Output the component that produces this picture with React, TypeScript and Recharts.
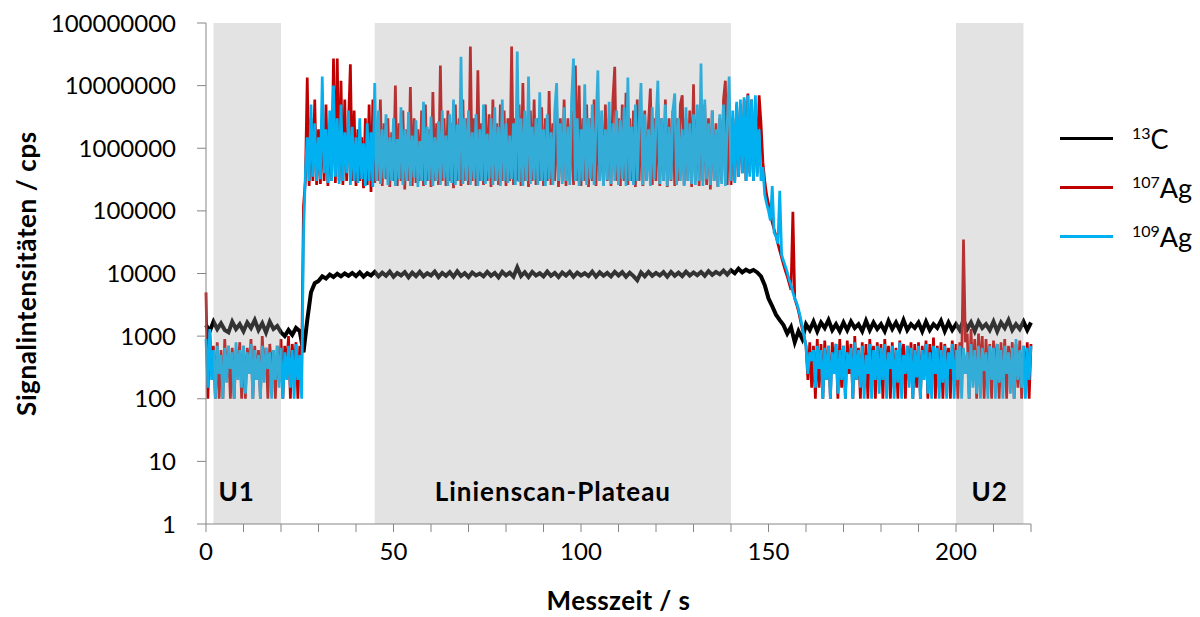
import { Legend, Line, LineChart, ReferenceArea, XAxis, YAxis } from 'recharts';

const FONT = 'Lato, "Open Sans", sans-serif';

// 13C, 1 s spacing (0 ... 220 s)
const c13Values = [
  1500, 1200, 1700, 1300, 1600, 1250, 1150, 1700, 1300, 1550,
  1200, 1650, 1350, 1800, 1250, 1600, 1150, 1700, 1300, 1450,
  1150, 1000, 1250, 1050, 1350, 1200, 550, 1800, 5000, 7000,
  7600, 9000, 8300, 9600, 8800, 9900, 9000, 10000, 9200, 10200,
  9100, 10400, 8900, 10100, 9300, 10600, 9000, 10300, 9200, 10700,
  8900, 10200, 9300, 10500, 8700, 10300, 9100, 10600, 9000, 10100,
  9300, 10700, 8800, 10200, 9200, 10500, 8900, 10800, 9100, 10100,
  8800, 10400, 9300, 10000, 9000, 10600, 9200, 10200, 8700, 10600,
  9300, 10300, 8900, 12500, 9100, 10500, 8800, 10600, 9300, 10100,
  9000, 10700, 9200, 10200, 8800, 10400, 9300, 10600, 8900, 10300,
  9300, 10100, 9100, 10700, 8900, 10400, 9200, 10200, 9000, 10600,
  9300, 10500, 8900, 10300, 9100, 7800, 10400, 9000, 10600, 9200,
  10200, 9300, 10500, 8900, 10600, 9200, 10300, 9100, 10700, 9300,
  10400, 9400, 10600, 9200, 10900, 9500, 10600, 9700, 11100, 9600,
  11300, 10100, 11900, 10400, 11500, 10700, 11400, 10400, 9000, 6500,
  4000, 3000, 2200, 1800, 1500, 1100, 1400, 800, 1200, 900,
  1550, 1250, 1700, 1200, 1650, 1350, 1800, 1250, 1550, 1200,
  1650, 1250, 1700, 1350, 1550, 1200, 1750, 1250, 1650, 1300,
  1550, 1200, 1750, 1300, 1650, 1250, 1800, 1250, 1550, 1350,
  1650, 1200, 1700, 1250, 1550, 1350, 1750, 1200, 1650, 1250,
  1550, 1250, 1800, 1300, 1650, 1200, 1700, 1350, 1550, 1250,
  1700, 1200, 1650, 1350, 1800, 1250, 1550, 1300, 1700, 1250,
  1650,
];

// 107Ag, 0.5 s spacing
const ag107Values = [
  5000, 100, 1200, 300, 700, 100, 800, 100, 600, 100, 900, 200, 700, 100, 650, 100, 600, 250, 800, 100,
  700, 100, 650, 300, 900, 100, 700, 200, 600, 100, 1000, 250, 650, 100, 750, 300, 600, 100, 700, 200,
  900, 100, 700, 300, 1000, 100, 750, 250, 800, 100, 700, 300, 1.2e5, 3e5, 1.35e7, 2.5e5, 3e6, 3e5, 6e6, 2.6e5,
  2e6, 2.7e5, 3e6, 3e5, 5e6, 2.5e5, 1.5e6, 3e5, 2.7e7, 2.8e5, 2.7e7, 3e5, 1.2e7, 2.6e5, 6e6, 3e5, 2.5e6, 2.2e7, 3e5, 4e6,
  2.5e5, 2e6, 3e5, 1.5e6, 2.3e5, 3e6, 2.6e5, 5e6, 2e5, 6e6, 2.8e5, 2e6, 3e5, 6e6, 2.5e5, 2.5e6, 3.2e5, 3e6, 2.4e5, 1.8e6,
  3e5, 1e7, 2.5e5, 2.5e6, 3e5, 4e6, 2.2e5, 2e6, 3e5, 9.5e6, 2.5e5, 3e6, 2.8e5, 2e6, 3e5, 4e6, 2.5e5, 5e6, 3e5, 2e6,
  2.4e5, 7.9e6, 3e5, 2.5e6, 2.6e5, 2.1e7, 3e5, 3e6, 2.5e5, 4e6, 3e5, 2.5e6, 2.3e5, 5e6, 3e5, 3e6, 2.5e5, 6e6, 3e5, 3e6,
  2.6e5, 4.2e7, 3e5, 3e6, 2.5e5, 1.76e7, 3e5, 2.5e6, 2.6e5, 5e6, 3e5, 3.5e6, 2.4e5, 6e6, 3e5, 2.5e6, 2.6e5, 5e6, 3e5, 4e6,
  2.5e5, 3e6, 3e5, 4.2e7, 2.6e5, 3e6, 3e5, 5e6, 2.5e5, 1.1e7, 3e5, 2.5e6, 2.4e5, 4e6, 3e5, 6e6, 2.6e5, 3e6, 3e5, 4.5e6,
  2.5e5, 3e6, 3e5, 8.2e6, 2.6e5, 2.5e6, 3e5, 5e6, 2.4e5, 3e6, 3e5, 6e6, 2.5e5, 3e6, 3e5, 4e6, 2.6e5, 2.1e7, 3e5, 1e7,
  2.5e5, 3e6, 3e5, 5e6, 2.4e5, 3e6, 3e5, 6e6, 2.5e5, 4e6, 3e5, 3e6, 2.6e5, 5e6, 3e5, 3e6, 2.5e5, 6e6, 2e7, 3e5,
  3e6, 2.5e5, 5e6, 3e5, 7.7e6, 2.6e5, 3e6, 3e5, 4e6, 2.4e5, 6e6, 3e5, 3e6, 2.5e5, 4e6, 3e5, 2.5e6, 9e6, 2.6e5, 3e6,
  3e5, 5e6, 2.5e5, 3e6, 3e5, 6e6, 2.4e5, 3e6, 3e5, 4e6, 2.5e5, 3e6, 3e5, 5e6, 7e6, 2.6e5, 3e6, 3e5, 4e6, 2.4e5,
  1.05e7, 3e5, 3e6, 2.5e5, 4e6, 3e5, 5e6, 2.6e5, 3e6, 2.2e5, 4e6, 3e5, 2.5e6, 2.4e5, 3e6, 3e5, 6e6, 1.2e7, 2.6e5, 4e6,
  2.6e5, 3e6, 3e5, 5e6, 3.5e5, 5e6, 4e5, 6e6, 3e5, 7.5e6, 4e5, 6e6, 3e5, 5e6, 4e5, 7e6, 2.5e6, 6e5, 3e5, 1.8e5,
  1.3e5, 9e4, 6.5e4, 5e4, 4e4, 3e4, 2.3e4, 1.8e4, 1.4e4, 1.1e4, 9000, 7000, 5500, 9.7e4, 4000, 3200, 2500, 1800, 1300, 1000,
  700, 200, 800, 150, 700, 100, 900, 150, 750, 100, 850, 200, 700, 100, 800, 300, 750, 100, 900, 150,
  700, 100, 850, 250, 750, 100, 1000, 200, 650, 100, 800, 150, 750, 100, 900, 300, 700, 100, 800, 200,
  750, 100, 900, 250, 700, 100, 800, 150, 650, 100, 850, 300, 750, 100, 700, 200, 800, 100, 750, 150,
  800, 100, 700, 250, 850, 100, 750, 200, 950, 100, 700, 150, 800, 100, 750, 300, 650, 100, 850, 200,
  750, 100, 800, 300, 3.5e4, 800, 1100, 100, 1300, 200, 900, 100, 1100, 250, 1000, 100, 900, 200, 750, 100,
  850, 300, 750, 100, 800, 200, 900, 100, 700, 250, 800, 100, 750, 150, 850, 100, 700, 200, 800, 100,
  750,
];

// 109Ag, 0.5 s spacing
const ag109Values = [
  900, 150, 1300, 200, 600, 100, 700, 250, 500, 100, 650, 180, 700, 300, 550, 100, 800, 200, 600, 150,
  700, 120, 550, 250, 750, 100, 600, 200, 500, 100, 700, 180, 650, 300, 550, 100, 600, 200, 700, 150,
  650, 100, 550, 200, 700, 150, 600, 100, 750, 200, 500, 100, 4e4, 4e5, 1.5e6, 3e5, 5e6, 3.5e5, 2.5e6, 3e5,
  1.5e6, 3.2e5, 1.4e7, 4e5, 2e6, 2.8e5, 4e6, 3e5, 1e7, 3.5e5, 3e6, 2.7e5, 5e6, 3e5, 1.8e6, 4e5, 4e6, 2.6e5, 2.2e6, 3e5,
  1.5e6, 2.8e5, 3e6, 3.2e5, 1.2e6, 2.5e5, 2.5e6, 3e5, 1.8e6, 2.4e5, 1.1e7, 3e5, 4e6, 2.7e5, 2e6, 3.3e5, 3.5e6, 2.6e5, 1.5e6, 3e5,
  3e6, 2.5e5, 1.4e6, 3.2e5, 4.5e6, 2.6e5, 2e6, 3e5, 3.8e6, 2.5e5, 1.6e6, 3.4e5, 2.8e6, 2.4e5, 1.3e6, 3e5, 5.5e6, 2.6e5, 2.2e6, 3.1e5,
  3.2e6, 2.5e5, 1.5e6, 3e5, 2.7e6, 2.6e5, 4e6, 3.3e5, 1.6e6, 2.5e5, 3.5e6, 2.8e5, 6e6, 2.6e5, 2.4e6, 3.1e5, 2.9e7, 2.7e5, 3e6, 3e5,
  4e6, 2.6e5, 1.8e6, 3.2e5, 3.5e6, 2.5e5, 2e6, 3e5, 5e6, 2.7e5, 1.7e6, 3.3e5, 3e6, 2.6e5, 4.5e6, 3e5, 2.2e6, 2.5e5, 6e6, 3e5,
  2.5e6, 2.8e5, 1.6e6, 3.2e5, 2.5e6, 2.6e5, 3.5e7, 2.9e5, 3e6, 2.5e5, 4e6, 3e5, 1.4e7, 2.7e5, 2.2e6, 3.1e5, 3e6, 2.6e5, 7.8e6, 3e5,
  2e6, 2.5e5, 3.5e6, 3.2e5, 1.8e6, 2.6e5, 4e6, 1.1e7, 3e5, 2.5e6, 2.7e5, 4.5e6, 3e5, 2.2e6, 2.6e5, 6e6, 2.7e7, 3e5, 3e6, 2.5e5,
  2e6, 3e5, 1.05e7, 2.6e5, 3e6, 3.2e5, 5e6, 2.6e5, 2.4e6, 1.75e7, 3e5, 4e6, 2.5e5, 2e6, 3.1e5, 5.5e6, 2.7e5, 2.5e6, 3e5, 4e6,
  2.6e5, 2.8e6, 3.2e5, 4.5e6, 2.5e5, 1.35e7, 3e5, 2.2e6, 2.6e5, 5e6, 3e5, 2.5e6, 1.1e7, 2.6e5, 3.5e6, 3e5, 2e6, 2.5e5, 4.5e6, 3.2e5,
  2.5e6, 1.2e7, 2.7e5, 3e6, 3e5, 5e6, 2.5e5, 2.2e6, 3.1e5, 4e6, 7.5e6, 2.6e5, 3e6, 3e5, 2e6, 2.5e5, 4.5e6, 3e5, 2.5e6, 2.7e5,
  3.5e6, 2.6e5, 5e6, 3e5, 2.26e7, 2.5e5, 6e6, 3.2e5, 2.5e6, 2.6e5, 4e6, 3e5, 2e6, 2.4e5, 3.5e6, 2.7e5, 5e6, 2.5e5, 2.5e6, 1.4e7,
  3e5, 4e6, 2.8e5, 5.5e6, 3.5e5, 6e6, 4e5, 6.5e6, 3e5, 7e6, 3.5e5, 6e6, 3e5, 7e6, 3.5e5, 2e6, 3e5, 5e5, 1.8e5, 1.3e5,
  1e5, 7e4, 2.5e5, 4.5e4, 3.9e4, 3e4, 2.1e5, 2e4, 1.6e4, 1.3e4, 1.05e4, 8000, 6500, 5000, 4000, 3400, 2700, 2000, 1400, 1000,
  680, 250, 550, 400, 600, 150, 700, 300, 600, 100, 650, 200, 700, 100, 550, 250, 750, 120, 600, 200,
  700, 100, 550, 300, 650, 100, 800, 200, 600, 150, 700, 100, 500, 250, 750, 100, 600, 200, 700, 120,
  650, 200, 750, 100, 550, 300, 700, 100, 600, 180, 800, 100, 500, 250, 700, 150, 650, 100, 600, 220,
  700, 100, 600, 200, 750, 120, 550, 100, 700, 250, 650, 100, 600, 180, 700, 100, 550, 300, 750, 100,
  600, 200, 700, 100, 650, 250, 550, 100, 750, 150, 600, 120, 700, 100, 650, 280, 550, 100, 700, 200,
  650, 100, 750, 180, 600, 100, 700, 250, 550, 120, 650, 100, 900, 200, 600, 150, 700, 100, 650, 200,
  700,
];

const C_STEP = 1;
const AG_STEP = 0.5;

const xTicks = [0, 10, 20, 30, 40, 50, 60, 70, 80, 90, 100, 110, 120, 130, 140, 150, 160, 170, 180, 190, 200, 210, 220];
const yTicks = [1, 10, 100, 1000, 10000, 100000, 1000000, 10000000, 100000000];

const regions = [
  { from: 2, to: 20, label: 'U1', anchor: 'start' },
  { from: 45, to: 140, label: 'Linienscan-Plateau', anchor: 'middle' },
  { from: 200, to: 218, label: 'U2', anchor: 'middle' },
];

const toPoints = (values: number[], step: number) => values.map((v, i) => ({ t: i * step, v }));

const series = [
  { key: 'c13', mass: '13', element: 'C', color: '#000000', width: 4, data: toPoints(c13Values, C_STEP) },
  { key: 'ag107', mass: '107', element: 'Ag', color: '#c00000', width: 2.75, data: toPoints(ag107Values, AG_STEP) },
  { key: 'ag109', mass: '109', element: 'Ag', color: '#00b0f0', width: 2.75, data: toPoints(ag109Values, AG_STEP) },
];

const XTick = ({ x, y, payload }: any) => {
  if (payload.value % 50 !== 0) return <g />;
  return (
    <text x={x} y={y + 26} textAnchor="middle" fontSize={24} fontFamily={FONT} fill="#000">
      {payload.value}
    </text>
  );
};

const LegendBox = () => (
  <div style={{ fontFamily: FONT, color: '#000' }}>
    {series.map((s) => (
      <div key={s.key} style={{ display: 'flex', alignItems: 'center', height: 49 }}>
        <div style={{ width: 53, height: 3, background: s.color }} />
        <span style={{ marginLeft: 19, fontSize: 27, lineHeight: 1 }}>
          <sup style={{ fontSize: 16 }}>{s.mass}</sup>
          {s.element}
        </span>
      </div>
    ))}
  </div>
);

export default function App() {
  return (
    <div style={{ position: 'absolute', left: 0, top: 0, background: '#fff' }}>
      <LineChart width={1200} height={617} margin={{ top: 23, right: 169, bottom: 0, left: 0 }}>
        <XAxis
          type="number"
          dataKey="t"
          domain={[0, 220]}
          ticks={xTicks}
          interval={0}
          height={93}
          stroke="#868686"
          tickSize={8}
          tick={<XTick />}
          label={(props: any) => {
            const vb = props.viewBox;
            return (
              <text x={vb.x + vb.width / 2} y={vb.y + 86} textAnchor="middle" fontFamily={FONT} fontWeight="bold" fontSize={26} letterSpacing={0.4} fill="#000">
                Messzeit / s
              </text>
            );
          }}
        />
        <YAxis
          scale="log"
          domain={[1, 100000000]}
          ticks={yTicks}
          interval={0}
          allowDataOverflow
          width={206}
          stroke="#868686"
          tickSize={9}
          tickMargin={21}
          tick={{ fill: '#000', fontSize: 24, fontFamily: FONT }}
          label={(props: any) => {
            const vb = props.viewBox;
            const cy = vb.y + vb.height / 2;
            return (
              <text x={26} y={cy} transform={`rotate(-90 26 ${cy})`} textAnchor="middle" dominantBaseline="central" fontFamily={FONT} fontWeight="bold" fontSize={26} letterSpacing={0.6} fill="#000">
                Signalintensitäten / cps
              </text>
            );
          }}
        />
        {series.map((s) => (
          <Line
            key={s.key}
            data={s.data}
            dataKey="v"
            type="linear"
            stroke={s.color}
            strokeWidth={s.width}
            dot={false}
            activeDot={false}
            isAnimationActive={false}
          />
        ))}
        {regions.map((r) => (
          <ReferenceArea
            key={r.label}
            x1={r.from}
            x2={r.to}
            y1={1}
            y2={100000000}
            fill="#a6a6a6"
            fillOpacity={0.31}
            stroke="none"
            zIndex={450}
            ifOverflow="hidden"
            label={(props: any) => {
              const vb = props.viewBox;
              const x = r.anchor === 'start' ? vb.x + 5 : vb.x + vb.width / 2;
              return (
                <text x={x} y={vb.y + vb.height - 23} textAnchor={r.anchor} fontFamily={FONT} fontWeight="bold" fontSize={26} letterSpacing={1} fill="#000">
                  {r.label}
                </text>
              );
            }}
          />
        ))}
        <Legend
          layout="vertical"
          align="center"
          verticalAlign="middle"
          content={<LegendBox />}
          wrapperStyle={{ left: 1060, top: 114, width: 140 }}
        />
      </LineChart>
    </div>
  );
}
